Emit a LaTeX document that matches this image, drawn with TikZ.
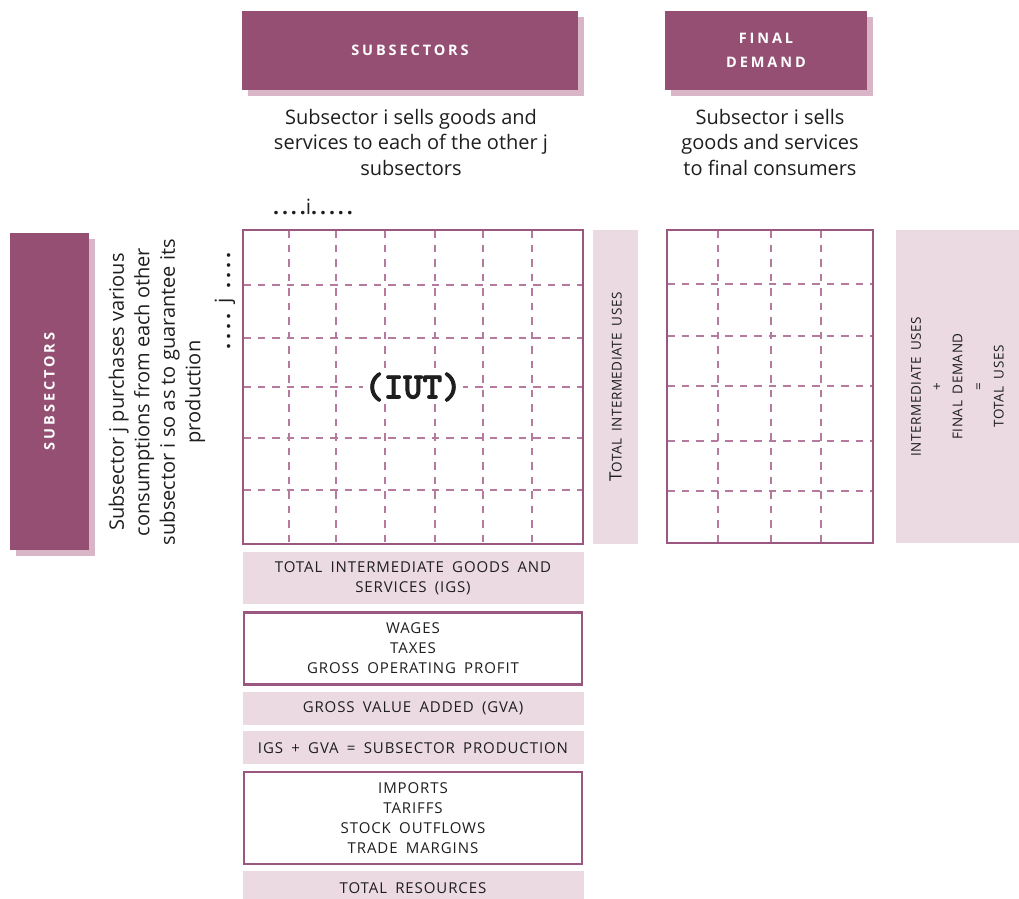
\documentclass[tikz,border=0pt]{standalone}
\usepackage{fontspec}
\setmainfont{Open Sans}
\newfontfamily\iutfont{lmmonolt10-bold.otf}[FakeBold=2.5]
\usetikzlibrary{positioning,shadows}
\definecolor{Plum}{HTML}{954F72}
\definecolor{PlumShade}{HTML}{D8B6C8}
\definecolor{PlumLine}{HTML}{9A5880}
\definecolor{PlumDash}{HTML}{B57A9E}
\definecolor{PlumFill}{HTML}{EBDAE2}
\definecolor{Ink}{HTML}{1E1E1E}
\newcommand{\capsfont}{\fontsize{15}{20}\selectfont\addfontfeature{LetterSpace=6}\spaceskip=0.55em\relax}
\newcommand{\barfont}{\fontsize{13.5}{20.7}\selectfont\addfontfeature{LetterSpace=4}\spaceskip=0.5em\relax}
\tikzset{
  headbox/.style={fill=Plum,text=white,align=center,inner sep=0pt,
    font=\bfseries\fontsize{14.5}{24}\selectfont\addfontfeature{LetterSpace=20},
    drop shadow={fill=PlumShade,opacity=1,shadow xshift=5.5pt,shadow yshift=-5.5pt}},
  note/.style={align=center,text=Ink,inner sep=0pt,font=\fontsize{20}{25.5}\selectfont},
  dotrow/.style={text=Ink,inner sep=0pt,font=\bfseries\fontsize{21}{21}\selectfont\addfontfeature{LetterSpace=14}},
  gridframe/.style={draw=PlumLine,line width=2pt,inner sep=0pt},
  gridline/.style={draw=PlumDash,line width=2.4pt,dash pattern=on 7.5pt off 7pt},
  sumbar/.style={fill=PlumFill,text=Ink,align=center,inner sep=0pt},
  valuebox/.style={draw=PlumLine,line width=2.4pt,fill=white,text=Ink,align=center,inner sep=0pt,minimum width=338.5pt,font=\capsfont},
  sumbox/.style={fill=PlumFill,text=Ink,align=center,inner sep=0pt,minimum width=341pt,font=\capsfont}
}
\begin{document}
\begin{tikzpicture}[x=1pt,y=-1pt]
  \useasboundingbox (0,0) rectangle (1019,898);

  % column heads
  \node[headbox,minimum width=336pt,minimum height=79pt] (hsub) at (410,50.5) {SUBSECTORS};
  \node[headbox,minimum width=202pt,minimum height=79pt] (hfinal) at (766,50.5) {FINAL\\DEMAND};
  \node[note] (sellnote) at (411,142) {Subsector i sells goods and\\services to each of the other j\\subsectors};
  \node[note] (finalnote) at (770,142) {Subsector i sells\\goods and services\\to final consumers};
  \node[dotrow] (idots) at (313,207) {....\mdseries i\bfseries .....};

  % row head
  \node[headbox,rotate=90,minimum width=317pt,minimum height=79pt] (vsub) at (49.5,391.5) {SUBSECTORS};
  \node[note,rotate=90] (buynote) at (157,392) {Subsector j purchases various\\consumptions from each other\\subsector i so as to guarantee its\\production};
  \node[dotrow,rotate=90,font=\bfseries\fontsize{21}{21}\selectfont\addfontfeature{LetterSpace=20}] (jdots) at (225,301) {....\ \mdseries j\bfseries\ ....};

  % intermediate use table
  \foreach \x in {289,336,385,435,483,532}
    \draw[gridline] (\x,230) -- (\x,544);
  \foreach \y in {285,338,387,438,490}
    \draw[gridline] (243,\y) -- (583,\y);
  \node[gridframe,minimum width=340pt,minimum height=314pt] (iutgrid) at (413,387) {};
  \node[fill=white,inner sep=1pt,text=Ink,font=\iutfont\fontsize{37}{37}\selectfont] (iut) at (iutgrid.center) {(IUT)};
  \node[sumbar,rotate=90,minimum width=314pt,minimum height=45pt,right=9pt of iutgrid.east,anchor=north] (intuses) {\fontsize{17}{17}\selectfont T\barfont OTAL INTERMEDIATE USES};

  % final demand table
  \foreach \x in {718,771,821}
    \draw[gridline] (\x,230) -- (\x,543);
  \foreach \y in {284,336,386,441,491}
    \draw[gridline] (667,\y) -- (873,\y);
  \node[gridframe,minimum width=206pt,minimum height=313pt] (fdgrid) at (770,386.5) {};
  \node[sumbar,rotate=90,minimum width=313pt,minimum height=123pt,font=\barfont] (totuses) at (957.5,386.5) {INTERMEDIATE USES\\{+}\\FINAL DEMAND\\{=}\\TOTAL USES};

  % resources stack
  \node[sumbox,minimum height=52pt,below=7pt of iutgrid.south,anchor=north] (igs) {TOTAL INTERMEDIATE GOODS AND\\SERVICES (IGS)};
  \node[valuebox,minimum height=72pt,below=7pt of igs] (wages) {WAGES\\TAXES\\GROSS OPERATING PROFIT};
  \node[sumbox,minimum height=33pt,below=6pt of wages] (gva) {GROSS VALUE ADDED (GVA)};
  \node[sumbox,minimum height=33pt,below=6pt of gva] (prod) {IGS + GVA = SUBSECTOR PRODUCTION};
  \node[valuebox,minimum height=92pt,below=6pt of prod] (imports) {IMPORTS\\TARIFFS\\STOCK OUTFLOWS\\TRADE MARGINS};
  \node[sumbox,minimum height=33pt,below=6pt of imports] (totres) {TOTAL RESOURCES};
\end{tikzpicture}
\end{document}
